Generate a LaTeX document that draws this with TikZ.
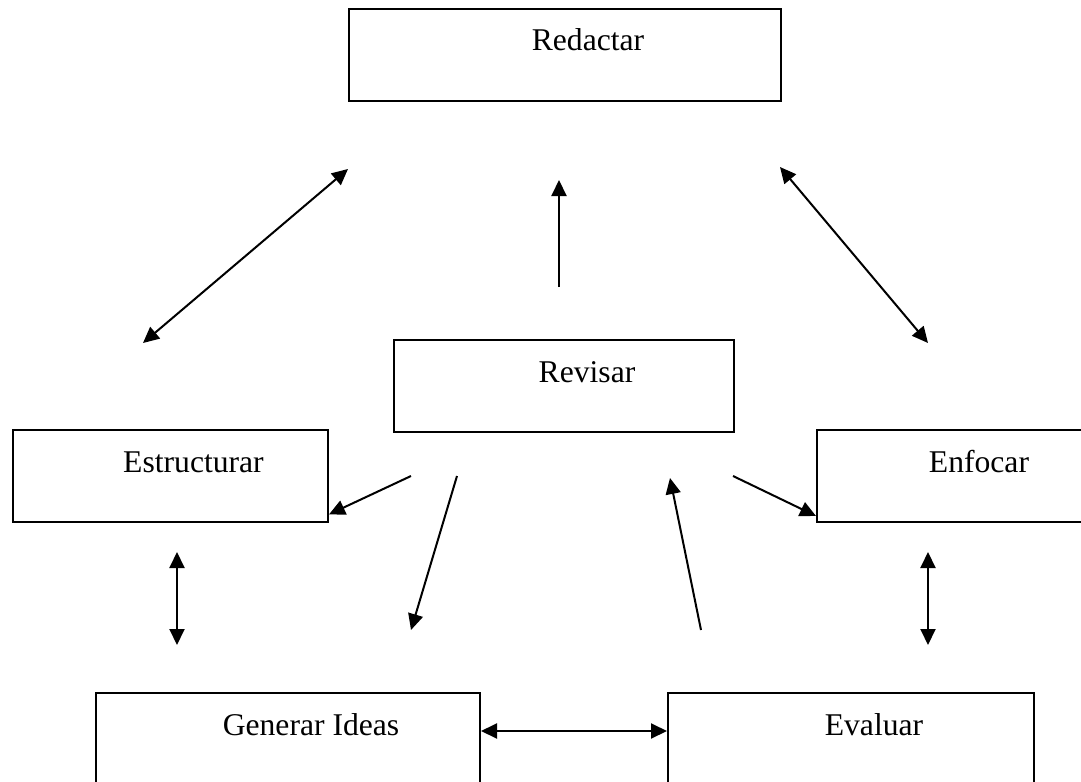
\documentclass[tikz,border=0pt]{standalone}
\usepackage{fontspec}
\setmainfont{Liberation Serif}
\usetikzlibrary{arrows.meta}

\begin{document}
\begin{tikzpicture}[
  x=0.25mm,y=-0.25mm,
  font=\fontsize{22.5}{27}\selectfont,
  box/.style={draw,line width=.5mm,inner sep=0pt,anchor=north west,
    text height=10.5mm,text depth=12.5mm},
  flow/.style={-{Triangle[length=4mm,width=3.75mm]},line width=.5mm},
  both/.style={{Triangle[length=4mm,width=3.75mm]}-{Triangle[length=4mm,width=3.75mm]},
    line width=.5mm}]
\useasboundingbox (0,0) rectangle (1081,782);
\node[box,minimum width=108mm] (redactar) at (348,8) {\hspace*{11.5mm}Redactar};
\node[box,minimum width=85mm] (revisar) at (393,339) {\hspace*{11.5mm}Revisar};
\node[box,minimum width=78.75mm] (estructurar) at (12,429) {\hspace*{11.5mm}Estructurar};
\node[box,minimum width=69.5mm] (enfocar) at (816,429) {\hspace*{11.5mm}Enfocar};
\node[box,minimum width=96mm] (generar) at (95,692) {\hspace*{11.5mm}Generar Ideas};
\node[box,minimum width=91.5mm] (evaluar) at (667,692) {\hspace*{11.5mm}Evaluar};
% free ends of the arrows
\coordinate (dl1) at (143,343); \coordinate (dl2) at (348,169);
\coordinate (up1) at (559,287); \coordinate (up2) at (559,180);
\coordinate (dr1) at (780,167); \coordinate (dr2) at (928,343);
\coordinate (re1) at (411,476);
\coordinate (rg1) at (457,476); \coordinate (rg2) at (411,630);
\coordinate (ev1) at (701,630); \coordinate (ev2) at (670,478);
\coordinate (rf1) at (733,476);
\coordinate (vl1) at (177,552); \coordinate (vl2) at (177,645);
\coordinate (vr1) at (928,552); \coordinate (vr2) at (928,645);
\draw[both] (dl1) -- (dl2);
\draw[flow] (up1) -- (up2);
\draw[both] (dr1) -- (dr2);
\draw[flow] (re1) -- ([yshift=-9.6mm]estructurar.east);
\draw[flow] (rg1) -- (rg2);
\draw[flow] (ev1) -- (ev2);
\draw[flow] (rf1) -- ([yshift=-10mm]enfocar.west);
\draw[both] (vl1) -- (vl2);
\draw[both] (vr1) -- (vr2);
\draw[both] ([yshift=2mm]generar.east) -- ([yshift=2mm]evaluar.west);
\end{tikzpicture}
\end{document}
